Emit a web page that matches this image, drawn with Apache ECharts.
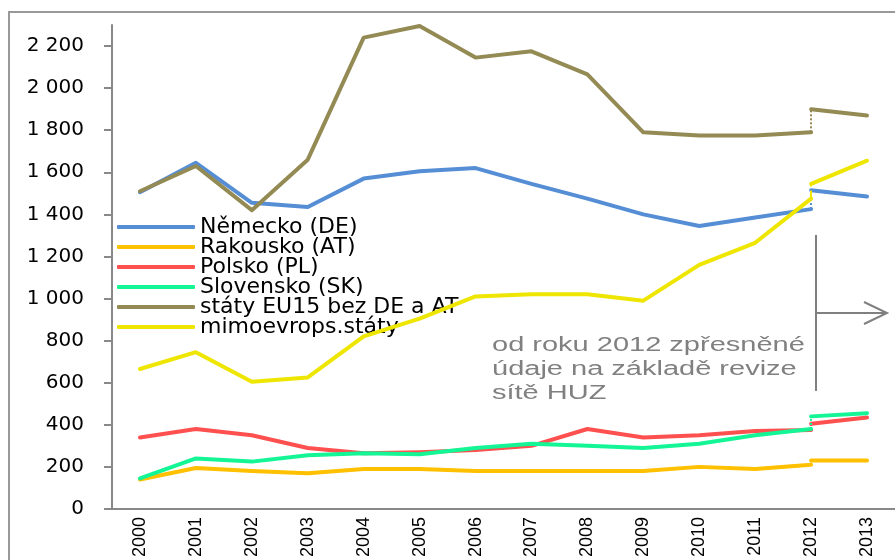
<!DOCTYPE html>
<html>
<head>
<meta charset="utf-8">
<script src="https://cdn.jsdelivr.net/npm/echarts@6/dist/echarts.min.js"></script>
<style>
html, body { margin: 0; padding: 0; background: #fff; }
#chart { width: 895px; height: 560px; }
</style>
</head>
<body>
<div id="chart"></div>
<script>
/* data */
var years = ['2000','2001','2002','2003','2004','2005','2006','2007','2008','2009','2010','2011','2012','2013'];
var names = ['Německo (DE)', 'Rakousko (AT)', 'Polsko (PL)', 'Slovensko (SK)', 'státy EU15 bez DE a AT', 'mimoevrops.státy'];
var colors = ['#558ED5', '#FFC000', '#FF5050', '#14F596', '#948A54', '#EEE600'];

/* 2000–2012 before the revision */
var deOld = [1505,1645,1455,1435,1570,1605,1620,1545,1475,1400,1345,1385,1425];
var atOld = [140,195,180,170,190,190,180,180,180,180,200,190,210];
var plOld = [340,380,350,290,265,270,280,300,380,340,350,370,375];
var skOld = [145,240,225,255,265,260,290,310,300,290,310,350,380];
var euOld = [1510,1630,1420,1660,2240,2295,2145,2175,2065,1790,1775,1775,1790];
var mimoOld = [665,745,605,625,820,905,1010,1020,1020,990,1160,1265,1475];

/* 2012–2013 after the revision of HUZ network */
var deNew = [1515,1485];
var atNew = [230,230];
var plNew = [405,435];
var skNew = [440,455];
var euNew = [1900,1870];
var mimoNew = [1545,1655];

var yTicks = [0,200,400,600,800,1000,1200,1400,1600,1800,2000,2200];

var olds = [deOld, atOld, plOld, skOld, euOld, mimoOld];
var news = [deNew, atNew, plNew, skNew, euNew, mimoNew];
var joinTypes = ['dotted','dotted','dotted','dotted','dotted','dashed'];

var fmt = function (v) {
    if (v >= 1000) {
        return Math.floor(v / 1000) + ' ' + String(v % 1000).padStart(3, '0');
    }
    return String(v);
};

var series = [];
names.forEach(function (name, i) {
    var oldData = olds[i].concat(['-']);
    series.push({
        name: name,
        type: 'line',
        data: oldData,
        symbol: 'none',
        lineStyle: { width: 4, color: colors[i], cap: 'round', join: 'round' },
        itemStyle: { color: colors[i] },
        z: 2 + i
    });
    var newData = [];
    for (var k = 0; k < years.length - 2; k++) newData.push('-');
    newData = newData.concat(news[i]);
    series.push({
        name: name,
        type: 'line',
        data: newData,
        symbol: 'none',
        lineStyle: { width: 4, color: colors[i], cap: 'round', join: 'round' },
        itemStyle: { color: colors[i] },
        z: 2 + i,
        markLine: {
            silent: true,
            symbol: 'none',
            label: { show: false },
            lineStyle: { color: colors[i], width: 2, type: joinTypes[i] },
            data: [[
                { coord: ['2012', olds[i][12]] },
                { coord: ['2012', news[i][0]] }
            ]]
        }
    });
});

var chart = echarts.init(document.getElementById('chart'));
var option = {
    animation: false,
    textStyle: { fontFamily: 'DejaVu Sans, sans-serif' },
    grid: { left: 112, right: -11, top: 25, bottom: 51, containLabel: false },
    legend: {
        data: names,
        orient: 'vertical',
        left: 117,
        top: 216,
        padding: 0,
        icon: 'roundRect',
        itemWidth: 78,
        itemHeight: 4,
        itemGap: -2,
        textStyle: { fontSize: 22, color: '#000', fontFamily: 'DejaVu Sans, sans-serif' }
    },
    xAxis: {
        type: 'category',
        data: years,
        boundaryGap: true,
        axisLine: { lineStyle: { color: '#888', width: 2 } },
        axisTick: { length: 4, lineStyle: { color: '#888', width: 2 } },
        axisLabel: { rotate: 90, fontSize: 18, color: '#000', margin: 8, interval: 0,
                     fontFamily: 'Liberation Sans' }
    },
    yAxis: {
        type: 'value',
        min: 0,
        max: 2300,
        interval: 200,
        splitLine: { show: false },
        axisLine: { show: true, lineStyle: { color: '#888', width: 2 } },
        axisTick: { show: true, length: 8, customValues: yTicks, lineStyle: { color: '#888', width: 2 } },
        axisLabel: { fontSize: 20, color: '#000', margin: 28, customValues: yTicks, formatter: fmt }
    },
    graphic: [
        { type: 'rect', shape: { x: 9, y: 12, width: 920, height: 600 },
          style: { fill: null, stroke: '#999', lineWidth: 2 }, silent: true },
        { type: 'text', x: 492, y: 333, scaleX: 1.45,
          style: { text: 'od roku 2012 zpřesněné\núdaje na základě revize\nsítě HUZ',
                   fontSize: 20, lineHeight: 24, fill: '#808080', fontFamily: 'Liberation Sans' } },
        { type: 'line', shape: { x1: 816, y1: 235, x2: 816, y2: 391 },
          style: { stroke: '#808080', lineWidth: 2 } },
        { type: 'line', shape: { x1: 816, y1: 313, x2: 887, y2: 313 },
          style: { stroke: '#808080', lineWidth: 2 } },
        { type: 'polyline', shape: { points: [[864, 302], [887, 313], [864, 324]] },
          style: { stroke: '#808080', lineWidth: 2, fill: null } }
    ],
    series: series
};
chart.setOption(option);
</script>
</body>
</html>
